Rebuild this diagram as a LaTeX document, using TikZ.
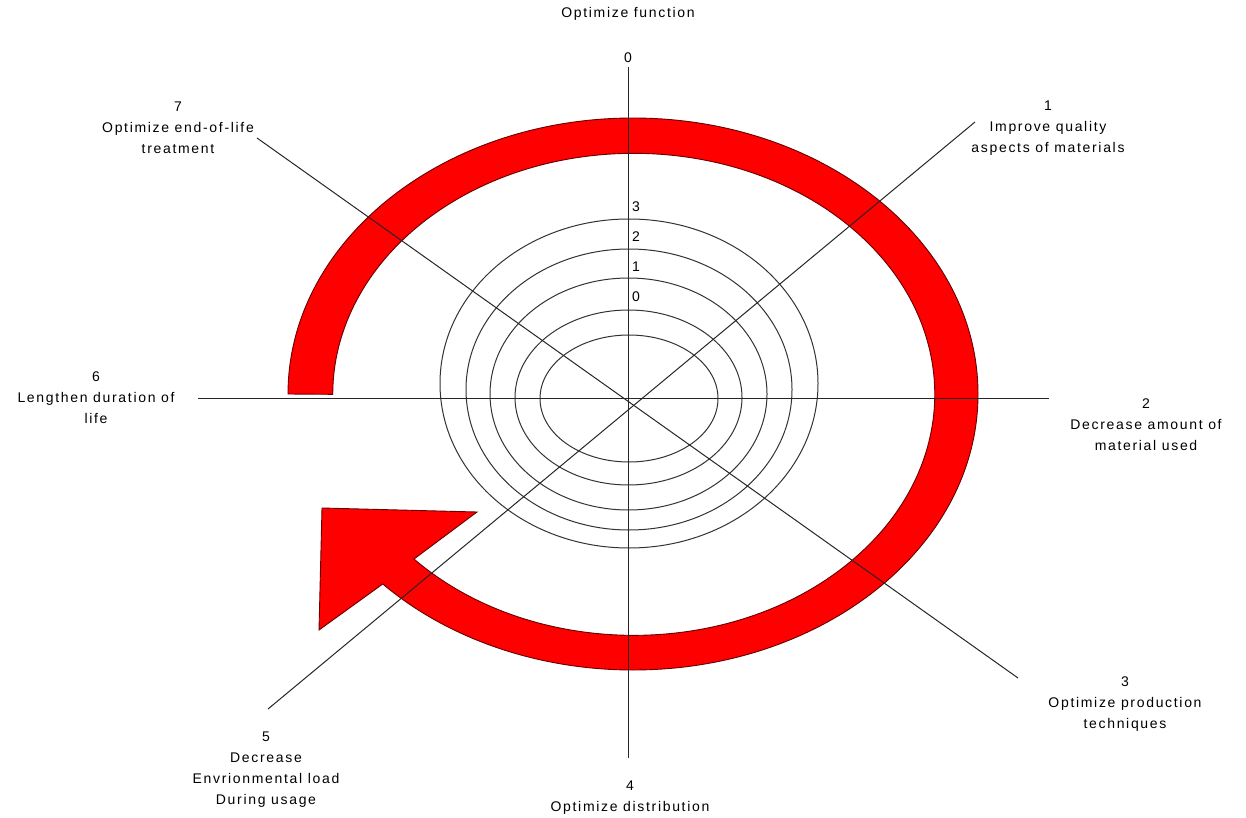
\documentclass[tikz,border=0pt]{standalone}
\usepackage{fontspec}
\setmainfont[LetterSpace=12]{Liberation Sans}
\begin{document}
\begin{tikzpicture}[x=1pt,y=-1pt,
  lbl/.style={font=\fontsize{14}{21}\selectfont, align=center, inner sep=0pt},
  axisline/.style={line width=1pt, draw=black!85},
  ringpath/.style={fill=red, draw=black!60!red, line width=0.9pt, line join=miter},
  orbit/.style={line width=1pt, draw=black!80}]
\useasboundingbox (0,0) rectangle (1246,818);
% axis end points
\coordinate (vt) at (628,67);
\coordinate (vb) at (628,758);
\coordinate (hl) at (198,398);
\coordinate (hr) at (1049,398);
\coordinate (d7) at (257,138);
\coordinate (d3) at (1018,678);
\coordinate (d1) at (975,122);
\coordinate (d5) at (268,709);
% concentric ellipses (left, right, top, bottom)
\foreach \l/\r/\t/\b in {440/818/219/548,466/792/249/530,490/767/278/510,515/742/310/485,540/718/335/462}
  \draw[orbit] ({(\l+\r)/2},{(\t+\b)/2}) ellipse[x radius={(\r-\l)/2}, y radius={(\b-\t)/2}];
% red ring arrow
\draw[ringpath] (288,394) arc[start angle=180, end angle=496.5, x radius=345, y radius=276]
  -- (319,630) -- (322,508) -- (477,512) -- (414,559)
  arc[start angle=496.9, end angle=180, x radius=301, y radius=241] -- cycle;
% axes
\draw[axisline] (vt) -- (vb);
\draw[axisline] (hl) -- (hr);
\draw[axisline] (d7) -- (d3);
\draw[axisline] (d1) -- (d5);
% labels
\node[lbl] (top) at (628,14) {Optimize function};
\node[lbl] (l0) at (628,58) {0};
\node[lbl] (l7) at (178,128) {7\\Optimize end-of-life\\treatment};
\node[lbl] (l1) at (1048,128) {1\\Improve quality\\aspects of materials};
\node[lbl] (l2) at (1146,425) {2\\Decrease amount of\\material used};
\node[lbl] (l3) at (1125,704) {3\\Optimize production\\techniques};
\node[lbl] (l4) at (630,798) {4\\Optimize distribution};
\node[lbl] (l5) at (266,770) {5\\Decrease\\Envrionmental load\\During usage};
\node[lbl] (l6) at (96,398) {6\\Lengthen duration of\\life};
\node[lbl] (r3) at (636,207) {3};
\node[lbl] (r2) at (636,237) {2};
\node[lbl] (r1) at (636,267) {1};
\node[lbl] (r0) at (636,297) {0};
\end{tikzpicture}
\end{document}
